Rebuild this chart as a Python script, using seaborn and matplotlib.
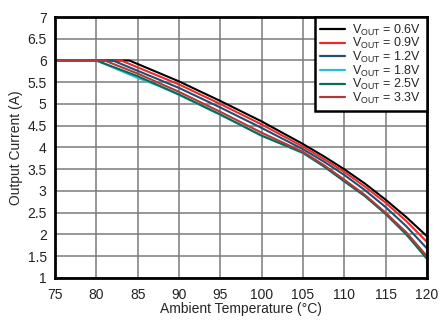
import matplotlib
matplotlib.use("Agg")
import matplotlib.pyplot as plt
import seaborn as sns
import pandas as pd

labels = ["0.6V", "0.9V", "1.2V", "1.8V", "2.5V", "3.3V"]
colors = ["#000000", "#f0282a", "#244e6e", "#27c0d2", "#0f6a55", "#b0393c"]

t_06 = [75, 84, 90, 95, 100, 105, 107.5, 110, 112.5, 115, 117.5, 120]
i_06 = [6.0, 6.0, 5.52, 5.07, 4.60, 4.08, 3.80, 3.50, 3.17, 2.80, 2.40, 1.96]
t_09 = [75, 83, 90, 95, 100, 105, 107.5, 110, 112.5, 115, 117.5, 120]
i_09 = [6.0, 6.0, 5.45, 5.00, 4.53, 4.02, 3.74, 3.44, 3.10, 2.73, 2.31, 1.83]
t_12 = [75, 82, 90, 95, 100, 105, 107.5, 110, 112.5, 115, 117.5, 120]
i_12 = [6.0, 6.0, 5.37, 4.92, 4.45, 3.96, 3.68, 3.37, 3.02, 2.63, 2.19, 1.68]
t_18 = [75, 80, 85, 87.5, 90, 95, 100, 105, 107.5, 110, 112.5, 115, 117.5, 120]
i_18 = [6.0, 6.0, 5.60, 5.42, 5.21, 4.75, 4.28, 3.87, 3.57, 3.24, 2.89, 2.49, 2.03, 1.50]
t_25 = [75, 80, 85, 90, 95, 100, 105, 107.5, 110, 112.5, 115, 117.5, 120]
i_25 = [6.0, 6.0, 5.64, 5.22, 4.76, 4.27, 3.88, 3.57, 3.22, 2.88, 2.47, 2.00, 1.44]
t_33 = [75, 81, 85, 90, 95, 100, 105, 107.5, 110, 112.5, 115, 117.5, 120]
i_33 = [6.0, 6.0, 5.70, 5.28, 4.82, 4.34, 3.90, 3.60, 3.26, 2.91, 2.50, 2.05, 1.50]

series = [(t_06, i_06), (t_09, i_09), (t_12, i_12), (t_18, i_18), (t_25, i_25), (t_33, i_33)]
x_ticks = list(range(75, 121, 5))
y_ticks = [1, 1.5, 2, 2.5, 3, 3.5, 4, 4.5, 5, 5.5, 6, 6.5, 7]
y_tick_labels = ["1", "1.5", "2", "2.5", "3", "3.5", "4", "4.5", "5", "5.5", "6", "6.5", "7"]

names = [r"V$_{\mathregular{OUT}}$ = " + l for l in labels]
rows = []
for name, (ts, vs) in zip(names, series):
    for t, v in zip(ts, vs):
        rows.append({"T": t, "I": v, "s": name})
df = pd.DataFrame(rows)

sns.set_style("white")
plt.rcParams["font.family"] = ["Liberation Sans", "DejaVu Sans"]
plt.rcParams["mathtext.fontset"] = "custom"
plt.rcParams["mathtext.rm"] = "Liberation Sans"
plt.rcParams["mathtext.it"] = "Liberation Sans"

fig = plt.figure(figsize=(4.47, 3.27), dpi=100)
ax = fig.add_axes([0.123, 0.150, 0.832, 0.798])

sns.lineplot(data=df, x="T", y="I", hue="s", hue_order=names, palette=colors,
             ax=ax, linewidth=1.5, estimator=None, sort=False)

ax.set_xlim(75, 120)
ax.set_ylim(1, 7)
ax.set_xticks(x_ticks)
ax.set_yticks(y_ticks)
ax.set_yticklabels(y_tick_labels)
ax.tick_params(axis="both", length=0, labelsize=10, colors="#222222")
ax.tick_params(axis="y", pad=6)
ax.tick_params(axis="x", pad=7)
ax.grid(True, color="#7a7a7a", linewidth=1.1)
for sp in ax.spines.values():
    sp.set_color("black")
    sp.set_linewidth(2)
    sp.set_visible(True)
ax.set_xlabel("Ambient Temperature (°C)", fontsize=10, labelpad=0)
ax.set_ylabel("Output Current (A)", fontsize=10, labelpad=3)

leg = ax.legend(loc="upper right", fontsize=9, frameon=True, fancybox=False,
                edgecolor="black", framealpha=1, handlelength=2.0,
                labelspacing=-0.12, borderpad=0.45, handletextpad=0.55,
                borderaxespad=0.0)
leg.get_frame().set_linewidth(1.8)
for lh in leg.get_lines():
    lh.set_linewidth(1.6)

fig.savefig("out.png", dpi=100)
